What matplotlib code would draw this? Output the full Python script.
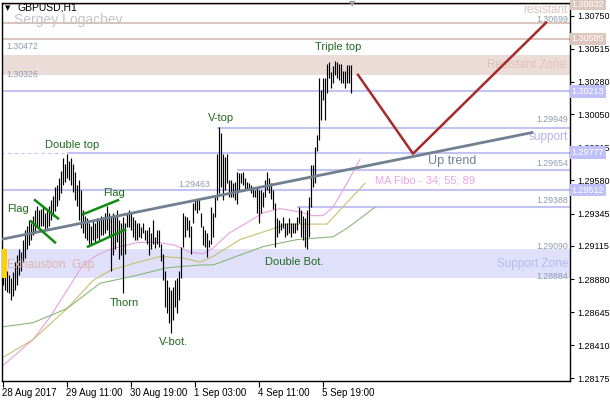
import numpy as np
import matplotlib.pyplot as plt
from matplotlib.transforms import blended_transform_factory

plt.rcParams['font.family'] = ['Liberation Sans', 'DejaVu Sans']

# GBPUSD H1 bars (high / low)
high = [1.2900, 1.2898, 1.2894, 1.2891, 1.2889, 1.2893, 1.2900, 1.2905, 1.2909, 1.2907,
        1.2916, 1.2923, 1.2926, 1.2930, 1.2928, 1.2933, 1.2937, 1.2940, 1.2937, 1.2938,
        1.2940, 1.2935, 1.2937, 1.2940, 1.2944, 1.2947, 1.2953, 1.2955, 1.2960, 1.2965,
        1.2974, 1.2970, 1.2977, 1.2972, 1.2974, 1.2970, 1.2964, 1.2955, 1.2958, 1.2951,
        1.2937, 1.2933, 1.2931, 1.2928, 1.2926, 1.2930, 1.2928, 1.2931, 1.2930, 1.2933,
        1.2932, 1.2935, 1.2940, 1.2935, 1.2933, 1.2935, 1.2933, 1.2937, 1.2930, 1.2928,
        1.2932, 1.2928, 1.2935, 1.2937, 1.2935, 1.2932, 1.2930, 1.2928, 1.2928, 1.2925,
        1.2928, 1.2923, 1.2923, 1.2925, 1.2921, 1.2930, 1.2918, 1.2923, 1.2923, 1.2913,
        1.2906, 1.2894, 1.2887, 1.2882, 1.2880, 1.2882, 1.2887, 1.2889, 1.2894, 1.2911,
        1.2935, 1.2933, 1.2932, 1.2930, 1.2926, 1.2942, 1.2945, 1.2944, 1.2944, 1.2935,
        1.2926, 1.2923, 1.2921, 1.2916, 1.2939, 1.2935, 1.2946, 1.2977, 1.2996, 1.2992,
        1.2977, 1.2975, 1.2977, 1.2958, 1.2958, 1.2956, 1.2957, 1.2964, 1.2963, 1.2963,
        1.2964, 1.2960, 1.2957, 1.2956, 1.2955, 1.2953, 1.2951, 1.2953, 1.2951, 1.2951,
        1.2950, 1.2958, 1.2964, 1.2960, 1.2956, 1.2951, 1.2942, 1.2931, 1.2930, 1.2928,
        1.2932, 1.2928, 1.2928, 1.2931, 1.2928, 1.2928, 1.2928, 1.2932, 1.2939, 1.2937,
        1.2933, 1.2931, 1.2937, 1.2946, 1.2969, 1.2969, 1.2982, 1.2990, 1.3031, 1.3022,
        1.3031, 1.3031, 1.3041, 1.3042, 1.3035, 1.3039, 1.3043, 1.3042, 1.3041, 1.3041,
        1.3036, 1.3036, 1.3040, 1.3040, 1.3040]
low = [1.2884, 1.2880, 1.2879, 1.2878, 1.2873, 1.2876, 1.2880, 1.2884, 1.2891, 1.2894,
       1.2900, 1.2903, 1.2909, 1.2912, 1.2916, 1.2919, 1.2921, 1.2924, 1.2923, 1.2926,
       1.2926, 1.2923, 1.2924, 1.2926, 1.2930, 1.2933, 1.2936, 1.2940, 1.2944, 1.2949,
       1.2955, 1.2957, 1.2960, 1.2958, 1.2955, 1.2950, 1.2944, 1.2940, 1.2930, 1.2924,
       1.2921, 1.2917, 1.2916, 1.2913, 1.2912, 1.2916, 1.2914, 1.2917, 1.2916, 1.2919,
       1.2919, 1.2921, 1.2923, 1.2918, 1.2894, 1.2905, 1.2909, 1.2914, 1.2902, 1.2905,
       1.2878, 1.2906, 1.2925, 1.2925, 1.2923, 1.2918, 1.2916, 1.2916, 1.2918, 1.2917,
       1.2921, 1.2916, 1.2913, 1.2905, 1.2909, 1.2913, 1.2910, 1.2913, 1.2911, 1.2901,
       1.2887, 1.2868, 1.2864, 1.2857, 1.2850, 1.2859, 1.2868, 1.2864, 1.2873, 1.2889,
       1.2911, 1.2918, 1.2923, 1.2918, 1.2906, 1.2928, 1.2937, 1.2935, 1.2937, 1.2925,
       1.2912, 1.2911, 1.2904, 1.2911, 1.2913, 1.2918, 1.2932, 1.2944, 1.2949, 1.2953,
       1.2944, 1.2951, 1.2956, 1.2946, 1.2946, 1.2946, 1.2944, 1.2941, 1.2951, 1.2956,
       1.2955, 1.2951, 1.2951, 1.2951, 1.2949, 1.2946, 1.2946, 1.2935, 1.2928, 1.2935,
       1.2939, 1.2946, 1.2951, 1.2949, 1.2945, 1.2938, 1.2911, 1.2918, 1.2921, 1.2923,
       1.2924, 1.2918, 1.2919, 1.2921, 1.2918, 1.2921, 1.2921, 1.2923, 1.2928, 1.2918,
       1.2916, 1.2911, 1.2909, 1.2918, 1.2939, 1.2953, 1.2956, 1.2979, 1.2987, 1.3001,
       1.3015, 1.3001, 1.3020, 1.3031, 1.3024, 1.3027, 1.3033, 1.3031, 1.3029, 1.3027,
       1.3027, 1.3024, 1.3027, 1.3027, 1.3020]

# MA Fibo 34 / 55 / 89 (bar index, price)
ma34_x = [-0.25, 15.25, 23.75, 32.25, 40.25, 47.25, 53.75, 58.75, 67.75, 77.75, 86.25, 93.75,
          100.25, 105.25, 113.75, 122.25, 130.25, 138.75, 147.25, 155.25, 160.25, 165.25, 172.25, 178.75]
ma34_y = [1.2826, 1.2845, 1.2861, 1.2880, 1.2898, 1.2905, 1.2909, 1.2911, 1.2914, 1.2914, 1.2912, 1.2907,
          1.2906, 1.2910, 1.2921, 1.2928, 1.2935, 1.2938, 1.2936, 1.2933, 1.2933, 1.2939, 1.2956, 1.2973]
ma55_x = [-0.25, 15.25, 32.25, 45.25, 53.75, 65.25, 78.75, 90.25, 98.75, 105.25, 118.75, 133.75,
          142.25, 162.25, 168.75, 181.25]
ma55_y = [1.2832, 1.2845, 1.2867, 1.2887, 1.2894, 1.2899, 1.2904, 1.2903, 1.2900, 1.2904, 1.2916, 1.2923,
          1.2927, 1.2927, 1.2937, 1.2956]
ma89_x = [-0.25, 15.25, 32.25, 48.75, 65.25, 82.25, 98.75, 105.25, 130.25, 147.25, 165.25, 172.25, 186.25]
ma89_y = [1.2854, 1.2857, 1.2867, 1.2885, 1.2890, 1.2896, 1.2898, 1.2898, 1.2911, 1.2916, 1.2918, 1.2924, 1.2939]

# drawn objects
trend_x = [-1.25, 264.75]
trend_y = [1.2916, 1.2992]
forecast_x = [177.75, 205.25, 271.75]
forecast_y = [1.3033, 1.2977, 1.3070]
flags = [([16.25, 27.75], [1.2944, 1.2931]), ([14.25, 26.25], [1.2929, 1.2914]),
         ([40.25, 57.75], [1.2934, 1.2944]), ([42.75, 61.25], [1.2911, 1.2923])]

pink_levels = [1.30832, 1.30699, 1.30585]
blue_levels = [(1.30213, -1), (1.29949, 107.25), (1.29777, 32), (1.29654, 117.25),
               (1.29512, -1), (1.29388, 147.25)]
res_zone = (1.30326, 1.30472)
sup_zone = (1.28884, 1.29090)

yticks = [1.28175, 1.28410, 1.28645, 1.28880, 1.29115, 1.29345, 1.29580, 1.29815,
          1.30050, 1.30280, 1.30515, 1.30750]
xtick_pos = [0, 32, 64, 96, 128, 160]
xtick_lab = ['28 Aug 2017', '29 Aug 11:00', '30 Aug 19:00', '1 Sep 03:00', '4 Sep 11:00', '5 Sep 19:00']

PINK = '#dcc6be'
BLUE = '#c4c4f4'
GREEN_TXT = '#1e6a1e'

fig = plt.figure(figsize=(6.1, 4.0), dpi=100)
ax = fig.add_axes([2 / 610, 19 / 400, 568 / 610, 378 / 400])
ax.set_xlim(-0.25, 283.75)
ax.set_ylim(1.28156, 1.30840)
xmax = 283.75

# zones and levels
ax.axhspan(*res_zone, color='#ecdcd8', lw=0, zorder=0)
ax.axhspan(*sup_zone, color='#e0e0fa', lw=0, zorder=0)
for p in pink_levels:
    ax.axhline(p, color=PINK, lw=1.5, zorder=1)
for p, start in blue_levels:
    ax.hlines(p, start, xmax, color=BLUE, lw=1.5, zorder=1)
ax.hlines(1.29777, -1, 32, color=BLUE, lw=0.8, linestyles=(0, (3, 3)), zorder=1)

# moving averages
ax.plot(ma34_x, ma34_y, color='#e8a0e4', lw=0.8, zorder=2)
ax.plot(ma55_x, ma55_y, color='#c8c070', lw=0.8, zorder=2)
ax.plot(ma89_x, ma89_y, color='#88b878', lw=0.8, zorder=2)

# bars
bars = np.arange(len(high))
ax.vlines(bars, low, high, color='black', lw=0.85, zorder=3)

# trend line, flags, forecast
ax.plot(trend_x, trend_y, color='#708090', lw=2.0, zorder=4)
for fx, fy in flags:
    ax.plot(fx, fy, color='#108a10', lw=1.8, zorder=4)
ax.plot(forecast_x, forecast_y, color='#a52a2a', lw=1.8, zorder=4)

# yellow marker
ax.axvspan(-0.25, 2.25, ymin=(1.28884 - 1.28156) / (1.30840 - 1.28156),
           ymax=(1.29095 - 1.28156) / (1.30840 - 1.28156), color='#ffd000', lw=0, zorder=5)

# labels
kw = dict(fontsize=8, color=GREEN_TXT, ha='center', va='center', zorder=6)
ax.text(167.75, 1.30527, 'Triple top', **kw)
ax.text(109.25, 1.3002, 'V-top', **kw)
ax.text(34.75, 1.2983, 'Double top', **kw)
ax.text(7.75, 1.2938, 'Flag', **kw)
ax.text(55.75, 1.2949, 'Flag', **kw)
ax.text(60.75, 1.2871, 'Thorn', **kw)
ax.text(85.75, 1.2843, 'V-bot.', **kw)
ax.text(145.75, 1.2900, 'Double Bot.', **kw)

ax.text(224.75, 1.2972, 'Up trend', fontsize=9, color='#708090', ha='center', va='center')
ax.text(186.25, 1.2958, 'MA Fibo - 34; 55; 89', fontsize=8, color='#eaa4e6', ha='left', va='center')
ax.text(282.75, 1.2989, 'support', fontsize=8.5, color='#b4b4f0', ha='right', va='center')
ax.text(282.75, 1.3079, 'resistant', fontsize=8.5, color='#dcc4bc', ha='right', va='center')
ax.text(281.75, 1.3040, 'Resistant Zone', fontsize=8.5, color='#dcc4bc', ha='right', va='center')
ax.text(282.75, 1.2899, 'Support Zone', fontsize=8.5, color='#b8b8f0', ha='right', va='center')
ax.text(2.25, 1.2898, 'Exhaustion  Gap', fontsize=8.5, color='#dcb4ac', ha='left', va='center', zorder=4)

small = dict(fontsize=6.3, color='#8c9cb0', va='center')
for p, y in [(1.30699, 1.3072), (1.29949, 1.3001), (1.29654, 1.2970),
             (1.29388, 1.2944), (1.29090, 1.2911), (1.28884, 1.2890)]:
    ax.text(282.75, y, '%.5f' % p, ha='right', **small)
ax.text(1.75, 1.3053, '1.30472', ha='left', **small)
ax.text(1.75, 1.3033, '1.30326', ha='left', **small)
ax.text(87.75, 1.2955, '1.29463', ha='left', **small)

fig.text(5 / 610, 1 - 8 / 400, '\u25bc', fontsize=5, color='black', ha='left', va='center',
         family='DejaVu Sans')
fig.text(17 / 610, 1 - 8 / 400, 'GBPUSD,H1', fontsize=7.5, color='black', ha='left', va='center')
fig.text(14 / 610, 1 - 20 / 400, 'Sergey Logachev', fontsize=10, color='#c4c4c4', ha='left', va='center')
fig.text(352 / 610, 1 - 4 / 400, '\u25bc', fontsize=6, color='#a0a0a0', ha='center', va='center',
         family='DejaVu Sans')

# axes styling
for s in ax.spines.values():
    s.set_color('black')
    s.set_linewidth(1)
ax.yaxis.tick_right()
ax.set_yticks(yticks)
ax.set_yticklabels(['%.5f' % v for v in yticks])
ax.set_xticks(xtick_pos)
ax.set_xticklabels(xtick_lab, ha='left')
ax.tick_params(axis='y', direction='out', length=3, labelsize=6.5, pad=2, width=0.8)
ax.tick_params(axis='x', direction='out', length=4, labelsize=7, pad=1, width=0.8)
for lbl in ax.get_xticklabels():
    lbl.set_horizontalalignment('left')

# highlighted price boxes on the price scale
tr = blended_transform_factory(ax.transAxes, ax.transData)
for p, c in [(1.30832, '#dcc6be'), (1.30585, '#dcc6be'), (1.30213, '#c0c0fa'),
             (1.29777, '#c0c0fa'), (1.29512, '#c0c0fa')]:
    ax.text(1.003, p, '%.5f' % p, transform=tr, fontsize=6.5, color='white', ha='left', va='center',
            bbox=dict(boxstyle='square,pad=0.2', fc=c, ec='none'), clip_on=False, zorder=10)

fig.savefig('out.png', dpi=100)
